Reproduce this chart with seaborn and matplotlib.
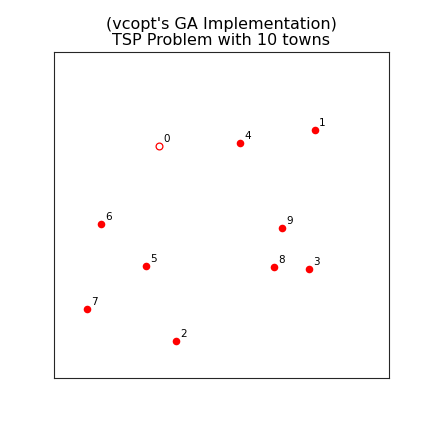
import pandas as pd
import matplotlib
matplotlib.use("Agg")
import matplotlib.pyplot as plt
import seaborn as sns

# town positions (axis range 0..100)
towns = [0, 1, 2, 3, 4, 5, 6, 7, 8, 9]
x_pos = [31.3, 77.9, 36.4, 76.1, 55.5, 27.5, 14.0, 9.9, 65.7, 68.1]
y_pos = [71.2, 76.1, 11.3, 33.4, 72.1, 34.4, 47.2, 21.2, 34.0, 46.0]
start_town = 0

df = pd.DataFrame({"town": towns, "x": x_pos, "y": y_pos})

sns.set_style("white")
plt.rcParams["font.family"] = ["DejaVu Sans"]

fig = plt.figure(figsize=(4.32, 4.32), dpi=100)
ax = fig.add_axes([54 / 432, 54 / 432, 335 / 432, 326 / 432])

others = df[df["town"] != start_town]
start = df[df["town"] == start_town]

sns.scatterplot(data=others, x="x", y="y", color="red", s=30, edgecolor="red", linewidth=0, ax=ax)
sns.scatterplot(data=start, x="x", y="y", facecolor="white", edgecolor="red", s=24, linewidth=0.9, ax=ax)

# town number next to each point
for t, xv, yv in zip(df["town"], df["x"], df["y"]):
    ax.annotate(str(t), (xv, yv), xytext=(3, 3), textcoords="offset points", fontsize=7.5, color="black")

ax.set_xlim(0, 100)
ax.set_ylim(0, 100)
ax.set_xticks([])
ax.set_yticks([])
ax.set_xlabel("")
ax.set_ylabel("")
for sp in ax.spines.values():
    sp.set_color("#262626")
    sp.set_linewidth(0.8)
ax.set_title("(vcopt's GA Implementation)\nTSP Problem with 10 towns", fontsize=11.5,
             color="black", linespacing=1.12, pad=5)

plt.savefig("out.png", dpi=100)
